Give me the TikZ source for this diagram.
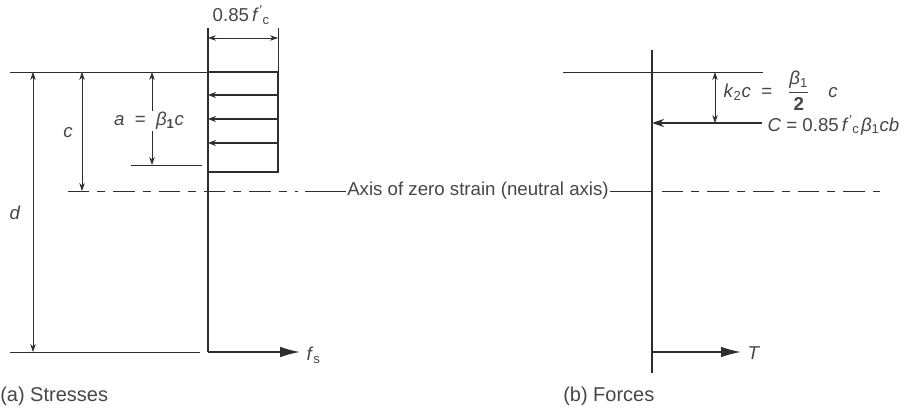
\documentclass[tikz,border=0pt]{standalone}
\usepackage{amsmath}
\usepackage{fontspec}
\setmainfont{Liberation Sans}
\usetikzlibrary{arrows.meta}
\definecolor{inkcolor}{RGB}{45,45,45}
\definecolor{labelcolor}{RGB}{70,70,70}
% sans italic symbols, as in the drawing
\newcommand{\sym}[1]{\textit{#1}}
\newcommand{\fcp}{\sym{f}\kern0.5pt\textsuperscript{′}\textsubscript{c}\kern1pt}

\begin{document}
\begin{tikzpicture}[
    >=Stealth,
    x=0.75pt, y=-0.75pt,
    lbl/.style={font=\fontsize{14}{16}\selectfont, text=labelcolor, inner sep=1pt},
    caption/.style={font=\fontsize{15}{17}\selectfont, text=labelcolor, inner sep=0pt, anchor=west},
    thinline/.style={draw=inkcolor, line width=0.6pt},
    dimline/.style={draw=inkcolor, line width=0.5pt, {Stealth[length=6pt,width=4pt]}-{Stealth[length=6pt,width=4pt]}},
    dimhalf/.style={draw=inkcolor, line width=0.5pt, -{Stealth[length=6pt,width=4pt]}},
    stressarrow/.style={draw=inkcolor, line width=1.1pt, -{Stealth[length=6pt,width=4.5pt]}},
    forcearrow/.style={draw=inkcolor, line width=1.3pt, -{Latex[length=15pt,width=8pt]}},
    axisline/.style={draw=inkcolor, line width=0.6pt, dash pattern=on 16pt off 6pt on 6pt off 6pt}
]

% canvas 901 x 410 px, 1px = 0.75pt, y runs downwards
\useasboundingbox (0,0) rectangle (901,410);

%% (a) Stresses
% reference lines and stress face
\coordinate (aTopL) at (10,72);
\coordinate (aTopR) at (208,72);
\coordinate (aFace) at (208,28);
\coordinate (aBase) at (208,352);
\coordinate (aBotL) at (10,352);
\coordinate (aBotR) at (200,352);
\draw[thinline] (aTopL) -- (aTopR);
\draw[thinline] (aBotL) -- (aBotR);
\draw[thinline, line width=0.9pt] (aFace) -- (aBase);

% stress block
\draw[draw=inkcolor, line width=1.2pt] (208,72) rectangle (278,172);
\foreach \y in {95,119,143} {
    \draw[stressarrow] (278,\y) -- (208,\y);
}

% 0.85 f'c width
\coordinate (wL) at (208,38);
\coordinate (wR) at (278,38);
\draw[thinline] (278,28) -- (278,72);
\draw[dimline] (wL) -- (wR);
\node[lbl] (fcLabel) at (242,15) {0.85\,\fcp};

% depth d
\coordinate (dTop) at (33,72);
\coordinate (dBot) at (33,352);
\draw[dimline] (dTop) -- (dBot);
\node[lbl] (dLabel) at (15,213) {\sym{d}};

% depth c
\coordinate (cTop) at (82,72);
\coordinate (cBot) at (82,191);
\draw[dimline] (cTop) -- (cBot);
\node[lbl] (cLabel) at (68,133) {\sym{c}};

% depth a
\coordinate (aDimTop) at (152,72);
\coordinate (aDimBot) at (152,165);
\draw[thinline] (131,165) -- (202,165);
\node[lbl, fill=white] (aLabel) at (149,121) {\sym{a}\; = \;\sym{β}\textsubscript{\textbf{1}}\sym{c}};
\draw[dimhalf] (aLabel.north -| aDimTop) -- (aDimTop);
\draw[dimhalf] (aLabel.south -| aDimBot) -- (aDimBot);

% steel stress
\draw[forcearrow] (aBase) -- (300,352);
\node[lbl, anchor=west] (fsLabel) at (305,355) {\sym{f}\textsubscript{s}};

%% neutral axis
\node[lbl] (axisLabel) at (478,191) {Axis of zero strain (neutral axis)};
\draw[axisline] (68,191) -- (298,191);
\draw[thinline] (305,191) -- (axisLabel.west);
\draw[thinline] (axisLabel.east) -- (652,191);
\draw[axisline] (662,191) -- (880,191);

%% (b) Forces
\coordinate (bTop) at (652,50);
\coordinate (bBot) at (652,373);
\draw[thinline, line width=0.9pt] (bTop) -- (bBot);
\draw[thinline] (563,72) -- (763,72);

% compression resultant
\coordinate (cStart) at (762,123);
\coordinate (cEnd) at (652,123);
\draw[draw=inkcolor, line width=1.1pt, -{Stealth[length=9pt,width=6pt]}] (cStart) -- (cEnd);
\node[lbl, anchor=west] (compLabel) at (766,125) {\sym{C} = 0.85\,\fcp\sym{β}\textsubscript{1}\sym{cb}};

% lever arm to C
\coordinate (kTop) at (715,72);
\coordinate (kBot) at (715,123);
\draw[dimline] (kTop) -- (kBot);
\node[lbl, anchor=west] (kLabel) at (722,91)
    {\sym{k}\textsubscript{2}\sym{c}\; = \;\;$\dfrac{\text{\sym{β}\textsubscript{1}}}{\text{\textbf{2}}}$\quad\sym{c}};

% tension resultant
\coordinate (tStart) at (652,352);
\draw[forcearrow] (tStart) -- (741,352);
\node[lbl, anchor=west] (tLabel) at (746,353) {\sym{T}};

%% captions
\node[caption] (capA) at (0,396) {(a) Stresses};
\node[caption] (capB) at (563,396) {(b) Forces};

\end{tikzpicture}
\end{document}
